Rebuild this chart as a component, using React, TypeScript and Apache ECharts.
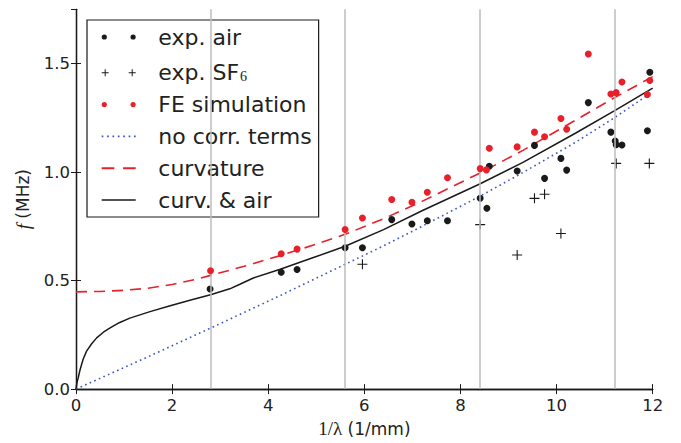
import React, { useEffect, useRef } from "react";
import * as echarts from "echarts";

const xTicks = [0, 2, 4, 6, 8, 10, 12];
const yTicks = [0, 0.5, 1.0, 1.5];
const guideLinesX = [2.8, 5.6, 8.4, 11.2];

const seriesNames = ["exp. air", "exp. SF6", "FE simulation", "no corr. terms", "curvature", "curv. & air"];

const expAir: [number, number][] = [
  [2.79, 0.461], [4.27, 0.538], [4.6, 0.551], [5.6, 0.651], [5.96, 0.651],
  [6.57, 0.781], [6.99, 0.761], [7.31, 0.776], [7.73, 0.776], [8.41, 0.879],
  [8.55, 0.833], [8.6, 1.027], [9.18, 1.005], [9.54, 1.123], [9.75, 0.971],
  [10.09, 1.063], [10.21, 1.009], [10.66, 1.32], [11.13, 1.184], [11.22, 1.143],
  [11.24, 1.126], [11.36, 1.125], [11.89, 1.19], [11.94, 1.46],
];

const expSF6: [number, number][] = [
  [5.96, 0.575], [8.41, 0.758], [9.18, 0.618], [9.54, 0.879], [9.75, 0.898],
  [10.09, 0.717], [11.24, 1.04], [11.93, 1.04],
];

const feSim: [number, number][] = [
  [2.8, 0.545], [4.27, 0.624], [4.6, 0.645], [5.6, 0.735], [5.96, 0.788],
  [6.57, 0.874], [6.99, 0.861], [7.31, 0.907], [7.73, 0.974], [8.41, 1.016],
  [8.54, 1.01], [8.6, 1.11], [9.18, 1.116], [9.54, 1.184], [9.75, 1.163],
  [10.09, 1.247], [10.21, 1.197], [10.66, 1.544], [11.13, 1.36], [11.24, 1.366],
  [11.36, 1.415], [11.89, 1.357], [11.94, 1.422],
];

const noCorr: [number, number][] = [
  [0, 0], [1.5, 0.149], [2.8, 0.281], [4.2, 0.426], [5.6, 0.575], [6.4, 0.66],
  [7.2, 0.75], [8.4, 0.888], [9.3, 0.998], [10.4, 1.138], [11.2, 1.25], [12, 1.37],
];

const curvature: [number, number][] = [
  [0, 0.448], [0.5, 0.45], [1, 0.455], [1.5, 0.465], [2, 0.482], [2.5, 0.506],
  [2.8, 0.524], [3.5, 0.566], [4.25, 0.615], [5, 0.668], [5.6, 0.713],
  [6.4, 0.785], [7.2, 0.865], [8.4, 0.995], [9.3, 1.1], [10.4, 1.24],
  [11.2, 1.342], [12, 1.44],
];

const curvAir: [number, number][] = [
  [0, 0], [0.02, 0.03], [0.05, 0.055], [0.083, 0.088], [0.15, 0.139], [0.22, 0.175],
  [0.33, 0.21], [0.43, 0.236], [0.57, 0.262], [0.71, 0.282], [0.9, 0.306], [1.12, 0.327],
  [1.54, 0.357], [1.96, 0.384], [2.37, 0.409], [2.8, 0.435], [3.2, 0.462], [3.41, 0.483],
  [3.69, 0.512], [4.25, 0.552], [4.94, 0.606], [5.6, 0.658], [6.4, 0.735], [7.2, 0.822],
  [8.4, 0.945], [9.3, 1.045], [10.4, 1.18], [11.2, 1.282], [12, 1.387],
];

const BLACK = "#1a1a1a";
const RED = "#e8202a";
const BLUE = "#3a55c0";
const FONT = "DejaVu Sans";

const plusPath = "path://M4,0h1v4h4v1h-4v4h-1v-4h-4v-1h4z";
const dotsIcon =
  "path://M0,2.6a2.6,2.6 0 1,0 5.2,0a2.6,2.6 0 1,0 -5.2,0z M28.8,2.6a2.6,2.6 0 1,0 5.2,0a2.6,2.6 0 1,0 -5.2,0z";
const plusIcon =
  "path://M3,0h1v3h3v1h-3v3h-1v-3h-3v-1h3z M30,0h1v3h3v1h-3v3h-1v-3h-3v-1h3z";
const dashIcon = "path://M0,0h11.5v1.7h-11.5z M19.5,0h11.5v1.7h-11.5z";
const dotIcon =
  "path://M0,0h1.6v1.6h-1.6z M5.2,0h1.6v1.6h-1.6z M10.4,0h1.6v1.6h-1.6z M15.6,0h1.6v1.6h-1.6z M20.8,0h1.6v1.6h-1.6z M26,0h1.6v1.6h-1.6z M31.2,0h1.6v1.6h-1.6z";
const solidIcon = "path://M0,0h33v1.5h-33z";

export default function App() {
  const ref = useRef<HTMLDivElement>(null);
  useEffect(() => {
    if (!ref.current) return;
    const chart = echarts.init(ref.current, null, { renderer: "svg" });
    const axisLine = { show: true, lineStyle: { color: BLACK, width: 1.3 } };
    const tick = { show: true, inside: true, length: 5, lineStyle: { color: BLACK, width: 1 } };
    const lbl = { color: "#222", fontFamily: FONT, fontSize: 16.5 };
    const yFmt = (v: number) =>
      yTicks.some((t) => Math.abs(t - v) < 1e-6) ? v.toFixed(1) : "";
    const xFmt = (v: number) => (xTicks.includes(v) ? String(v) : "");
    chart.setOption({
      animation: false,
      backgroundColor: "#fff",
      grid: { left: 76, right: 28.3, top: 9.3, bottom: 47.3 },
      xAxis: [
        {
          type: "value", min: 0, max: 12, interval: 2, position: "bottom",
          axisLine, axisTick: tick, splitLine: { show: false },
          axisLabel: { ...lbl, margin: 8, formatter: xFmt },
          name: "{m|1/λ} (1/mm)", nameLocation: "middle", nameGap: 28,
          nameTextStyle: {
            color: "#222", fontFamily: FONT, fontSize: 17,
            rich: { m: { fontFamily: "Liberation Serif", fontSize: 19, color: "#222" } },
          },
        },
        {
          type: "value", min: 0, max: 12, interval: 2, position: "top",
          axisLine, axisTick: tick, splitLine: { show: false }, axisLabel: { show: false },
        },
      ],
      yAxis: [
        {
          type: "value", min: 0, max: 1.75, interval: 0.5, position: "left",
          axisLine, axisTick: tick, splitLine: { show: false },
          axisLabel: { ...lbl, margin: 6, formatter: yFmt, showMaxLabel: false },
          name: "{i|f} (MHz)", nameLocation: "middle", nameGap: 41, nameRotate: 90,
          nameTextStyle: {
            color: "#222", fontFamily: FONT, fontSize: 17,
            rich: { i: { fontFamily: "Liberation Serif", fontStyle: "italic", fontSize: 19, color: "#222" } },
          },
        },
        {
          type: "value", min: 0, max: 1.75, interval: 0.5, position: "right",
          axisLine, axisTick: tick, splitLine: { show: false }, axisLabel: { show: false },
        },
      ],
      legend: {
        orient: "vertical", left: 87, top: 20,
        padding: [6, 7, 6, 14.7],
        itemWidth: 34, itemHeight: 14, itemGap: 9.8,
        backgroundColor: "#fff", borderColor: BLACK, borderWidth: 1.2, borderRadius: 0,
        data: [
          { name: seriesNames[0], icon: dotsIcon },
          { name: seriesNames[1], icon: plusIcon },
          { name: seriesNames[2], icon: dotsIcon },
          { name: seriesNames[3], icon: dotIcon },
          { name: seriesNames[4], icon: dashIcon },
          { name: seriesNames[5], icon: solidIcon },
        ],
        textStyle: {
          color: "#222", fontFamily: FONT, fontSize: 22, lineHeight: 22,
          rich: {
            t: { fontFamily: FONT, fontSize: 22, lineHeight: 22, color: "#222", padding: [0, 0, 0, 17.6] },
            s: { fontFamily: "Liberation Serif", fontSize: 14, lineHeight: 22, color: "#222", verticalAlign: "bottom", padding: [12, 0, 0, 1] },
          },
        },
        formatter: (name: string) =>
          name === "exp. SF6" ? "{t|exp. SF}{s|6}" : "{t|" + name + "}",
      },
      series: [
        {
          name: "guides", type: "line", data: [], z: 1, silent: true,
          markLine: {
            silent: true, symbol: "none", label: { show: false },
            lineStyle: { color: "#bdbdbd", width: 1.5, type: "solid" },
            data: guideLinesX.map((x) => ({ xAxis: x })),
          },
        },
        {
          name: seriesNames[3], type: "line", data: noCorr, symbol: "none", z: 2,
          lineStyle: { color: BLUE, width: 1.6, type: [1.6, 3.4] },
          itemStyle: { color: BLUE },
        },
        {
          name: seriesNames[4], type: "line", data: curvature, symbol: "none", z: 3,
          lineStyle: { color: RED, width: 1.6, type: [11, 7] },
          itemStyle: { color: RED },
        },
        {
          name: seriesNames[5], type: "line", data: curvAir, symbol: "none", z: 3,
          lineStyle: { color: BLACK, width: 1.5 },
          itemStyle: { color: BLACK },
        },
        {
          name: seriesNames[0], type: "scatter", data: expAir, symbol: "circle", symbolSize: 7, z: 4,
          itemStyle: { color: BLACK, opacity: 1 },
        },
        {
          name: seriesNames[1], type: "scatter", data: expSF6, symbol: plusPath, symbolSize: 10, z: 4,
          itemStyle: { color: BLACK, opacity: 1 },
        },
        {
          name: seriesNames[2], type: "scatter", data: feSim, symbol: "circle", symbolSize: 7, z: 5,
          itemStyle: { color: RED, opacity: 1 },
        },
      ],
    });
    return () => chart.dispose();
  }, []);
  return (
    <div
      ref={ref}
      style={{ position: "fixed", left: 0, top: 0, width: 681, height: 443 }}
    />
  );
}
